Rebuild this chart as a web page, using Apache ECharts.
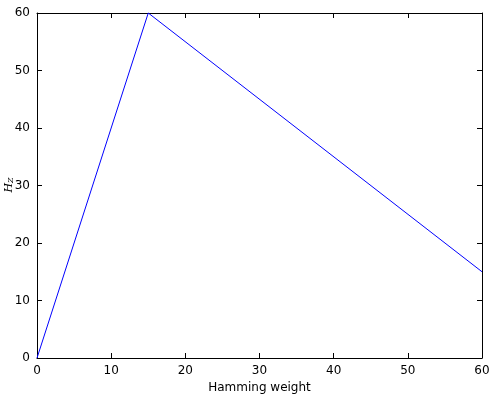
<!DOCTYPE html>
<html>
<head>
<meta charset="UTF-8">
<script src="https://cdn.jsdelivr.net/npm/echarts@6/dist/echarts.min.js"></script>
<style>
  body { margin: 0; background: #fff; }
  #chart { width: 494px; height: 406px; }
</style>
</head>
<body>
<div id="chart"></div>
<script>
  // hamming weight vs H_Z
  const weights = [0, 15, 60];
  const hz = [0, 60, 15];

  const chart = echarts.init(document.getElementById('chart'));
  const font = 'DejaVu Sans';
  const tick = { show: true, inside: true, length: 5, lineStyle: { color: '#000' } };
  const axLine = { show: true, onZero: false, lineStyle: { color: '#000', width: 1 } };

  chart.setOption({
    animation: false,
    grid: { left: 37, right: 12, top: 13, bottom: 48, containLabel: false, outerBoundsMode: 'none' },
    // y axis title drawn as a rotated text (H with subscript Z)
    graphic: [{
      type: 'text',
      x: 3, y: 185,
      rotation: Math.PI / 2,
      style: {
        text: '{i|H}{s|Z}',
        align: 'center', verticalAlign: 'top',
        rich: {
          i: { fontFamily: 'DejaVu Serif', fontStyle: 'italic', fontSize: 11, fill: '#000' },
          s: { fontFamily: 'DejaVu Serif', fontStyle: 'italic', fontSize: 8, fill: '#000', padding: [4, 0, 0, 0] }
        }
      }
    }],
    xAxis: [
      {
        type: 'value', min: 0, max: 60, interval: 10,
        name: 'Hamming weight', nameLocation: 'middle', nameGap: 21,
        nameTextStyle: { fontFamily: font, fontSize: 12, color: '#000' },
        axisLine: axLine, axisTick: tick, splitLine: { show: false },
        axisLabel: { fontFamily: font, fontSize: 12, color: '#000', margin: 7 }
      },
      {
        type: 'value', position: 'top', min: 0, max: 60, interval: 10,
        axisLine: axLine, axisTick: tick, axisLabel: { show: false }, splitLine: { show: false }
      }
    ],
    yAxis: [
      {
        type: 'value', min: 0, max: 60, interval: 10,
        axisLine: axLine, axisTick: tick, splitLine: { show: false },
        axisLabel: { fontFamily: font, fontSize: 12, color: '#000', margin: 7 }
      },
      {
        type: 'value', position: 'right', min: 0, max: 60, interval: 10,
        axisLine: axLine, axisTick: tick, axisLabel: { show: false }, splitLine: { show: false }
      }
    ],
    series: [{
      type: 'line',
      data: weights.map((w, i) => [w, hz[i]]),
      showSymbol: false,
      lineStyle: { color: '#0000ff', width: 1 },
      clip: false
    }]
  });
</script>
</body>
</html>
